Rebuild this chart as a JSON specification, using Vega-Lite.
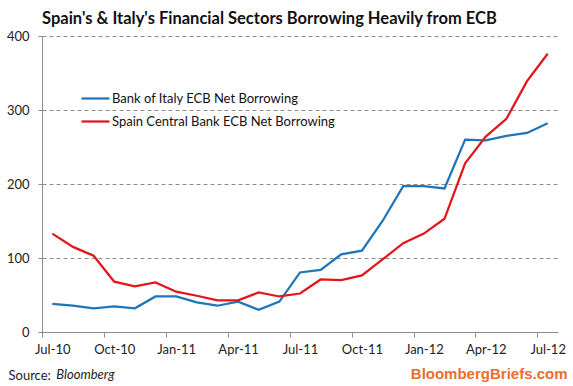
{
  "$schema": "https://vega.github.io/schema/vega-lite/v6.json",
  "width": 516,
  "height": 296,
  "autosize": "none",
  "padding": {"left": 42, "top": 36, "right": 15, "bottom": 54},
  "background": "white",
  "config": {
    "view": {"stroke": null},
    "font": "Lato",
    "axis": {"labelFont": "Lato", "titleFont": "Lato", "labelColor": "#222", "domainColor": "#8c8c8c", "tickColor": "#8c8c8c"},
    "legend": {"labelFont": "Lato"}
  },
  "title": {
    "text": "Spain's & Italy's Financial Sectors Borrowing Heavily from ECB",
    "anchor": "start",
    "frame": "group",
    "font": "Lato",
    "fontSize": 16.5,
    "fontWeight": "bold",
    "color": "#111",
    "baseline": "alphabetic",
    "offset": -10
  },
  "data": {
    "values": [
      {"month": "Jul-10", "series": "Bank of Italy ECB Net Borrowing", "value": 38},
      {"month": "Aug-10", "series": "Bank of Italy ECB Net Borrowing", "value": 35.5},
      {"month": "Sep-10", "series": "Bank of Italy ECB Net Borrowing", "value": 32},
      {"month": "Oct-10", "series": "Bank of Italy ECB Net Borrowing", "value": 34.6},
      {"month": "Nov-10", "series": "Bank of Italy ECB Net Borrowing", "value": 32},
      {"month": "Dec-10", "series": "Bank of Italy ECB Net Borrowing", "value": 48},
      {"month": "Jan-11", "series": "Bank of Italy ECB Net Borrowing", "value": 48},
      {"month": "Feb-11", "series": "Bank of Italy ECB Net Borrowing", "value": 40},
      {"month": "Mar-11", "series": "Bank of Italy ECB Net Borrowing", "value": 35.5},
      {"month": "Apr-11", "series": "Bank of Italy ECB Net Borrowing", "value": 41},
      {"month": "May-11", "series": "Bank of Italy ECB Net Borrowing", "value": 30},
      {"month": "Jun-11", "series": "Bank of Italy ECB Net Borrowing", "value": 41},
      {"month": "Jul-11", "series": "Bank of Italy ECB Net Borrowing", "value": 80.5},
      {"month": "Aug-11", "series": "Bank of Italy ECB Net Borrowing", "value": 84},
      {"month": "Sep-11", "series": "Bank of Italy ECB Net Borrowing", "value": 105},
      {"month": "Oct-11", "series": "Bank of Italy ECB Net Borrowing", "value": 110},
      {"month": "Nov-11", "series": "Bank of Italy ECB Net Borrowing", "value": 150},
      {"month": "Dec-11", "series": "Bank of Italy ECB Net Borrowing", "value": 197},
      {"month": "Jan-12", "series": "Bank of Italy ECB Net Borrowing", "value": 197},
      {"month": "Feb-12", "series": "Bank of Italy ECB Net Borrowing", "value": 194},
      {"month": "Mar-12", "series": "Bank of Italy ECB Net Borrowing", "value": 260},
      {"month": "Apr-12", "series": "Bank of Italy ECB Net Borrowing", "value": 259},
      {"month": "May-12", "series": "Bank of Italy ECB Net Borrowing", "value": 265},
      {"month": "Jun-12", "series": "Bank of Italy ECB Net Borrowing", "value": 269},
      {"month": "Jul-12", "series": "Bank of Italy ECB Net Borrowing", "value": 282},
      {"month": "Jul-10", "series": "Spain Central Bank ECB Net Borrowing", "value": 133},
      {"month": "Aug-10", "series": "Spain Central Bank ECB Net Borrowing", "value": 115},
      {"month": "Sep-10", "series": "Spain Central Bank ECB Net Borrowing", "value": 103},
      {"month": "Oct-10", "series": "Spain Central Bank ECB Net Borrowing", "value": 68},
      {"month": "Nov-10", "series": "Spain Central Bank ECB Net Borrowing", "value": 61.6},
      {"month": "Dec-10", "series": "Spain Central Bank ECB Net Borrowing", "value": 67},
      {"month": "Jan-11", "series": "Spain Central Bank ECB Net Borrowing", "value": 54.5},
      {"month": "Feb-11", "series": "Spain Central Bank ECB Net Borrowing", "value": 49},
      {"month": "Mar-11", "series": "Spain Central Bank ECB Net Borrowing", "value": 42.7},
      {"month": "Apr-11", "series": "Spain Central Bank ECB Net Borrowing", "value": 42.7},
      {"month": "May-11", "series": "Spain Central Bank ECB Net Borrowing", "value": 53.5},
      {"month": "Jun-11", "series": "Spain Central Bank ECB Net Borrowing", "value": 48},
      {"month": "Jul-11", "series": "Spain Central Bank ECB Net Borrowing", "value": 52},
      {"month": "Aug-11", "series": "Spain Central Bank ECB Net Borrowing", "value": 71},
      {"month": "Sep-11", "series": "Spain Central Bank ECB Net Borrowing", "value": 70},
      {"month": "Oct-11", "series": "Spain Central Bank ECB Net Borrowing", "value": 76.5},
      {"month": "Nov-11", "series": "Spain Central Bank ECB Net Borrowing", "value": 98},
      {"month": "Dec-11", "series": "Spain Central Bank ECB Net Borrowing", "value": 120},
      {"month": "Jan-12", "series": "Spain Central Bank ECB Net Borrowing", "value": 133},
      {"month": "Feb-12", "series": "Spain Central Bank ECB Net Borrowing", "value": 153},
      {"month": "Mar-12", "series": "Spain Central Bank ECB Net Borrowing", "value": 228},
      {"month": "Apr-12", "series": "Spain Central Bank ECB Net Borrowing", "value": 264},
      {"month": "May-12", "series": "Spain Central Bank ECB Net Borrowing", "value": 288},
      {"month": "Jun-12", "series": "Spain Central Bank ECB Net Borrowing", "value": 339},
      {"month": "Jul-12", "series": "Spain Central Bank ECB Net Borrowing", "value": 376}
    ]
  },
  "layer": [
    {
      "mark": {"type": "line", "strokeWidth": 2.25},
      "encoding": {
        "x": {
          "field": "month",
          "type": "ordinal",
          "sort": null,
          "scale": {"type": "point", "padding": 0.5},
          "axis": {
            "values": ["Jul-10", "Oct-10", "Jan-11", "Apr-11", "Jul-11", "Oct-11", "Jan-12", "Apr-12", "Jul-12"],
            "labelAngle": 0,
            "labelFontSize": 13,
            "labelPadding": 6,
            "tickSize": 5,
            "tickOffset": -10.32,
            "labelOffset": 10.32,
            "grid": false,
            "domain": true,
            "title": "Source:",
            "titleFontSize": 13,
            "titleFontWeight": "normal",
            "titleColor": "#222",
            "titleAnchor": "start",
            "titleAlign": "left",
            "titleBaseline": "alphabetic",
            "titleX": -34,
            "titleY": 47
          }
        },
        "y": {
          "field": "value",
          "type": "quantitative",
          "scale": {"domain": [0, 400], "nice": false},
          "axis": {
            "values": [0, 50, 100, 150, 200, 250, 300, 350, 400],
            "labelFontSize": 13,
            "labelPadding": 9,
            "tickSize": 4,
            "domain": true,
            "grid": true,
            "gridColor": "#8c8c8c",
            "gridDash": [4, 3],
            "gridWidth": 1,
            "title": "BloombergBriefs.com",
            "titleAngle": 0,
            "titleFont": "Liberation Sans",
            "titleFontSize": 15,
            "titleFontWeight": "bold",
            "titleColor": "#E8702A",
            "titleAlign": "right",
            "titleBaseline": "alphabetic",
            "titleX": 525,
            "titleY": 342
          }
        },
        "color": {
          "field": "series",
          "type": "nominal",
          "scale": {
            "domain": ["Bank of Italy ECB Net Borrowing", "Spain Central Bank ECB Net Borrowing"],
            "range": ["#1F75BA", "#E3161B"]
          },
          "legend": {
            "title": null,
            "orient": "none",
            "legendX": 38,
            "legendY": 47,
            "symbolType": "stroke",
            "symbolSize": 784,
            "symbolStrokeWidth": 2.25,
            "labelFontSize": 13,
            "labelLimit": 0,
            "labelColor": "#111",
            "labelOffset": 1,
            "rowPadding": -5
          }
        }
      }
    },
    {
      "data": {"values": [{"note": "Bloomberg"}]},
      "mark": {"type": "text", "align": "left", "baseline": "alphabetic", "fontStyle": "italic", "fontSize": 13, "font": "Lato", "color": "#222", "dx": 4, "dy": 47},
      "encoding": {
        "x": {"datum": "Jul-10", "type": "ordinal"},
        "y": {"datum": 0, "type": "quantitative"},
        "text": {"field": "note", "type": "nominal"}
      }
    }
  ]
}
